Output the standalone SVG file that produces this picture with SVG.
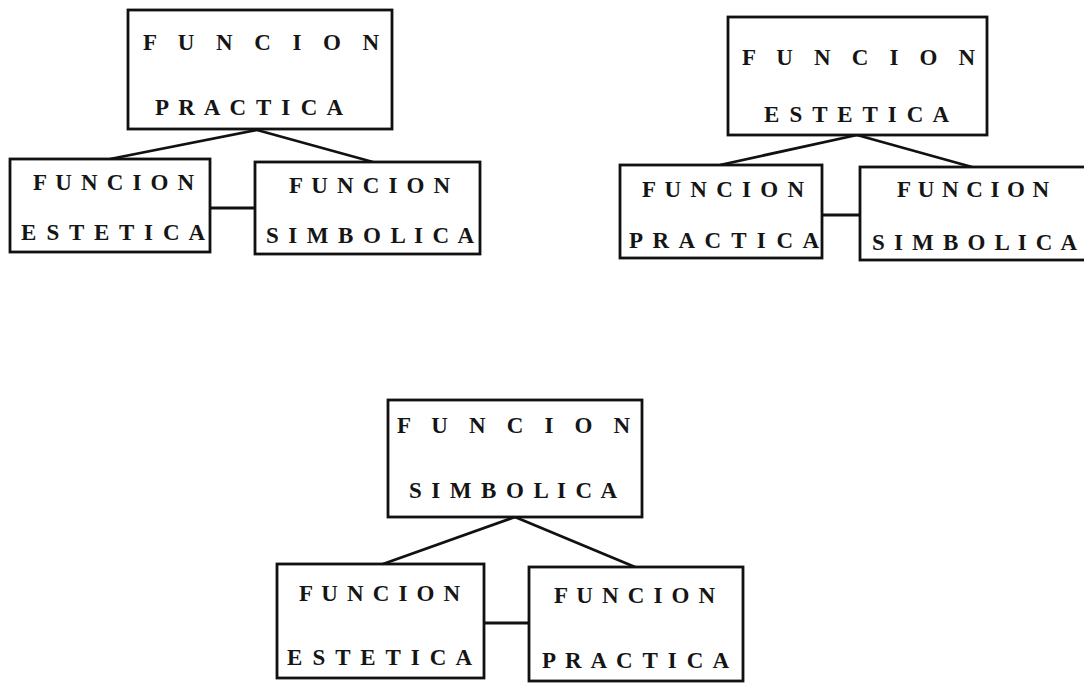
<svg xmlns="http://www.w3.org/2000/svg" width="1084" height="684" viewBox="0 0 1084 684">
  <style>
    .box { fill: #ffffff; stroke: #111111; stroke-width: 2.8; }
    .link { stroke: #111111; stroke-width: 2.8; fill: none; }
    .lbl { font-family: "Liberation Serif", "Times New Roman", serif; font-size: 23px; font-weight: bold; fill: #151515; }
  </style>
  <rect width="1084" height="684" fill="#ffffff"/>

  <!-- connectors -->
  <g id="connectors">
    <line class="link" x1="257" y1="130" x2="110" y2="159"/>
    <line class="link" x1="257" y1="130" x2="373" y2="162"/>
    <line class="link" x1="210" y1="208" x2="255" y2="208"/>

    <line class="link" x1="857" y1="135" x2="720" y2="165"/>
    <line class="link" x1="857" y1="135" x2="972" y2="167"/>
    <line class="link" x1="822" y1="215" x2="860" y2="215"/>

    <line class="link" x1="515" y1="517" x2="383" y2="564"/>
    <line class="link" x1="515" y1="517" x2="635" y2="567"/>
    <line class="link" x1="484" y1="623" x2="529" y2="623"/>
  </g>

  <!-- first triad: practical function on top -->
  <g id="t1-practica">
    <rect class="box" x="128" y="10" width="264" height="119"/>
    <text class="lbl" x="143" y="50" textLength="236" lengthAdjust="spacing">F U N C I O N</text>
    <text class="lbl" x="155" y="115" textLength="188" lengthAdjust="spacing">P R A C T I C A</text>
  </g>
  <g id="t1-estetica">
    <rect class="box" x="10" y="159" width="200" height="93"/>
    <text class="lbl" x="33" y="190" textLength="161" lengthAdjust="spacing">F U N C I O N</text>
    <text class="lbl" x="21" y="240" textLength="184" lengthAdjust="spacing">E S T E T I C A</text>
  </g>
  <g id="t1-simbolica">
    <rect class="box" x="255" y="162" width="225" height="92"/>
    <text class="lbl" x="289" y="193" textLength="161" lengthAdjust="spacing">F U N C I O N</text>
    <text class="lbl" x="266" y="243" textLength="208" lengthAdjust="spacing">S I M B O L I C A</text>
  </g>

  <!-- second triad: aesthetic function on top -->
  <g id="t2-estetica">
    <rect class="box" x="728" y="17" width="259" height="118"/>
    <text class="lbl" x="742" y="65" textLength="233" lengthAdjust="spacing">F U N C I O N</text>
    <text class="lbl" x="764" y="122" textLength="185" lengthAdjust="spacing">E S T E T I C A</text>
  </g>
  <g id="t2-practica">
    <rect class="box" x="620" y="165" width="202" height="93"/>
    <text class="lbl" x="642" y="197" textLength="162" lengthAdjust="spacing">F U N C I O N</text>
    <text class="lbl" x="629" y="248" textLength="190" lengthAdjust="spacing">P R A C T I C A</text>
  </g>
  <g id="t2-simbolica">
    <rect class="box" x="860" y="167" width="230" height="93"/>
    <text class="lbl" x="897" y="197" textLength="152" lengthAdjust="spacing">F U N C I O N</text>
    <text class="lbl" x="872" y="250" textLength="205" lengthAdjust="spacing">S I M B O L I C A</text>
  </g>

  <!-- third triad: symbolic function on top -->
  <g id="t3-simbolica">
    <rect class="box" x="388" y="400" width="254" height="117"/>
    <text class="lbl" x="397" y="433" textLength="233" lengthAdjust="spacing">F U N C I O N</text>
    <text class="lbl" x="409" y="498" textLength="208" lengthAdjust="spacing">S I M B O L I C A</text>
  </g>
  <g id="t3-estetica">
    <rect class="box" x="277" y="564" width="207" height="114"/>
    <text class="lbl" x="299" y="601" textLength="161" lengthAdjust="spacing">F U N C I O N</text>
    <text class="lbl" x="287" y="665" textLength="185" lengthAdjust="spacing">E S T E T I C A</text>
  </g>
  <g id="t3-practica">
    <rect class="box" x="529" y="567" width="214" height="114"/>
    <text class="lbl" x="554" y="603" textLength="161" lengthAdjust="spacing">F U N C I O N</text>
    <text class="lbl" x="542" y="668" textLength="187" lengthAdjust="spacing">P R A C T I C A</text>
  </g>
</svg>
